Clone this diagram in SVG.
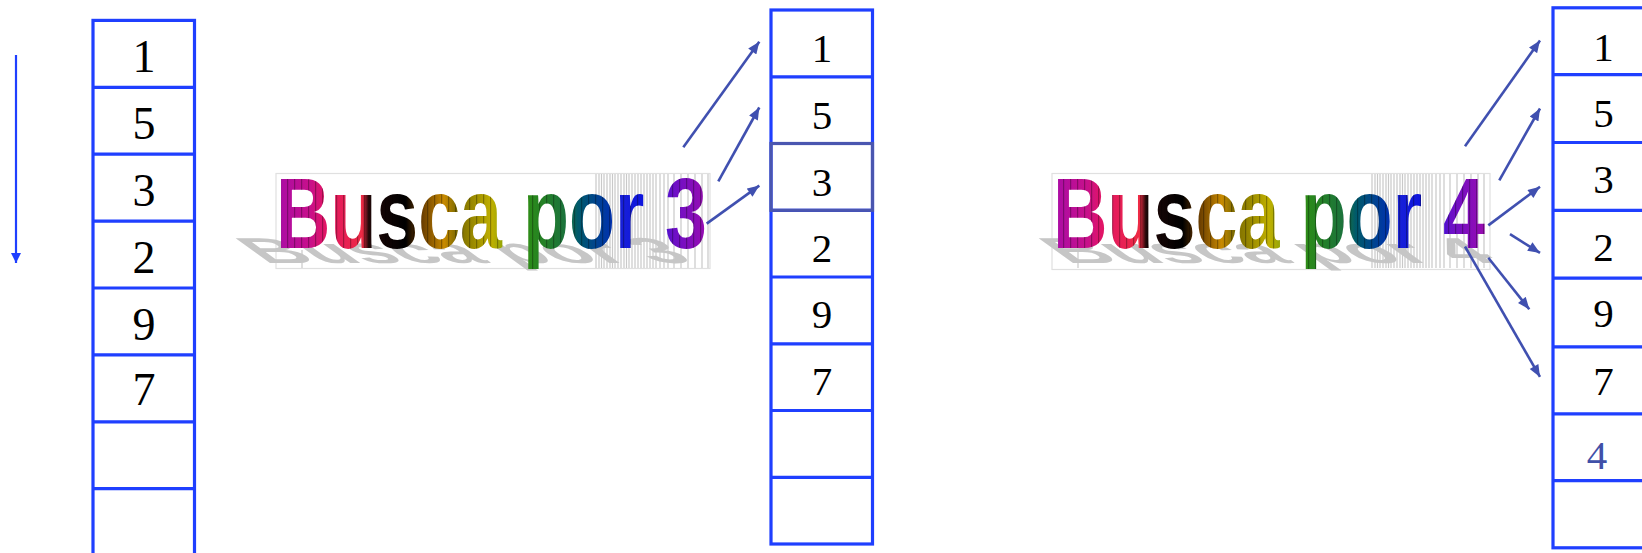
<svg xmlns="http://www.w3.org/2000/svg" width="1642" height="553" viewBox="0 0 1642 553">
<style>
.cell{fill:none;stroke:#1f3fff;stroke-width:3.2}
.hl{fill:none;stroke:#4a56b0;stroke-width:3.2}
.num{font-family:"Liberation Serif","Times New Roman",serif;text-anchor:middle;fill:#000}
.n1{font-size:46px}
.n2{font-size:41px}
.wa{font-family:"Liberation Sans",Arial,sans-serif;font-weight:bold;font-size:100px}
.frame{fill:#fff;stroke:#e0e0e0;stroke-width:1.2}
.stripe{stroke:#c9c9c9;stroke-width:1.2;fill:none}
.shadow{fill:#c6c6c6}
.conn{stroke:#4050b0;stroke-width:2.6;fill:none;marker-end:url(#ah)}
.down{stroke:#1f3fff;stroke-width:2.2;fill:none;marker-end:url(#ahb)}
</style>
<defs>
<marker id="ah" viewBox="0 0 12 10" refX="12" refY="5" markerWidth="13" markerHeight="10" markerUnits="userSpaceOnUse" orient="auto"><path d="M0,0 L12,5 L0,10 z" fill="#4050b0"/></marker>
<marker id="ahb" viewBox="0 0 10 10" refX="10" refY="5" markerWidth="10" markerHeight="10" markerUnits="userSpaceOnUse" orient="auto"><path d="M0,0 L10,5 L0,10 z" fill="#1f3fff"/></marker>
<linearGradient id="rainbow" x1="0" y1="0" x2="1" y2="0">
<stop offset="0" stop-color="#a80ca8"/>
<stop offset="0.08" stop-color="#c8108a"/>
<stop offset="0.11" stop-color="#e01468"/>
<stop offset="0.20" stop-color="#ee2a44"/>
<stop offset="0.215" stop-color="#200808"/>
<stop offset="0.30" stop-color="#000000"/>
<stop offset="0.33" stop-color="#5a3000"/>
<stop offset="0.39" stop-color="#c88a00"/>
<stop offset="0.42" stop-color="#7a6a00"/>
<stop offset="0.50" stop-color="#c0b000"/>
<stop offset="0.59" stop-color="#2a8a1a"/>
<stop offset="0.68" stop-color="#1a7040"/>
<stop offset="0.70" stop-color="#005a6a"/>
<stop offset="0.78" stop-color="#0030b0"/>
<stop offset="0.80" stop-color="#1820d8"/>
<stop offset="0.87" stop-color="#0a10e0"/>
<stop offset="0.92" stop-color="#6a10c8"/>
<stop offset="1" stop-color="#9a0cb0"/>
</linearGradient>
<pattern id="tex" width="7" height="10" patternUnits="userSpaceOnUse"><rect x="0" y="0" width="1.2" height="10" fill="#000" fill-opacity="0.3"/></pattern>
<path id="stripes" class="stripe" d="M596 174V268M599 174V268M601.5 174V268M604 174V268M607 174V268M610 174V268M612.5 174V268M615 174V268M618 174V268M621 174V268M624 174V268M626.5 174V268M629 174V268M632 174V268M635 174V268M638 174V268M641 174V268M644 174V268M647 174V268M650 174V268M653 174V268M656 174V268M660 174V268M664 174V268M668 174V268M674 174V268M681 174V268M688 174V268M695 174V268M702 174V268M708 174V268M302 250V268"/>
</defs>

<g id="col-left">
<rect class="cell" x="93" y="20.4" width="101.5" height="545"/>
<path class="cell" d="M93 87.3H194.5M93 154.2H194.5M93 221.1H194.5M93 288H194.5M93 354.9H194.5M93 421.8H194.5M93 488.7H194.5"/>
<text class="num n1" x="144" y="72">1</text>
<text class="num n1" x="144" y="139.2">5</text>
<text class="num n1" x="144" y="206">3</text>
<text class="num n1" x="144" y="273">2</text>
<text class="num n1" x="144" y="340">9</text>
<text class="num n1" x="144" y="405">7</text>
</g>

<g id="wordart-3">
<rect class="frame" x="276" y="173.5" width="434" height="95"/>
<use href="#stripes"/>
<text class="wa shadow" x="276" y="0" textLength="431" lengthAdjust="spacingAndGlyphs" transform="matrix(1,0,0.5,0.36,-11,263)">Busca por 3</text>
<text class="wa" x="276" y="248" textLength="431" lengthAdjust="spacingAndGlyphs" fill="url(#rainbow)">Busca por 3</text>
<text class="wa" x="276" y="248" textLength="431" lengthAdjust="spacingAndGlyphs" fill="url(#tex)">Busca por 3</text>
</g>

<g id="col-mid">
<rect class="cell" x="771" y="10" width="101.5" height="534"/>
<path class="cell" d="M771 76.8H872.5M771 143.5H872.5M771 210.3H872.5M771 277H872.5M771 343.8H872.5M771 410.5H872.5M771 477.3H872.5"/>
<rect class="hl" x="771" y="143.5" width="101.5" height="66.8"/>
<text class="num n2" x="822" y="61.5">1</text>
<text class="num n2" x="822" y="128.5">5</text>
<text class="num n2" x="822" y="195.5">3</text>
<text class="num n2" x="822" y="262.3">2</text>
<text class="num n2" x="822" y="328">9</text>
<text class="num n2" x="822" y="394.5">7</text>
</g>

<g id="wordart-4">
<g transform="translate(776,0)">
<rect class="frame" x="276" y="173.5" width="438" height="96"/>
<use href="#stripes"/>
<text class="wa shadow" x="276" y="0" textLength="432" lengthAdjust="spacingAndGlyphs" transform="matrix(1,0,0.5,0.36,16,263)">Busca por 4</text>
<text class="wa" x="277" y="248" textLength="432" lengthAdjust="spacingAndGlyphs" fill="url(#rainbow)">Busca por 4</text>
<text class="wa" x="277" y="248" textLength="432" lengthAdjust="spacingAndGlyphs" fill="url(#tex)">Busca por 4</text>
</g>
</g>

<g id="col-right">
<rect class="cell" x="1553" y="7.8" width="102" height="540"/>
<path class="cell" d="M1553 74.7H1655M1553 142.5H1655M1553 210.4H1655M1553 278.2H1655M1553 346.9H1655M1553 413.8H1655M1553 480.7H1655"/>
<text class="num n2" x="1603.5" y="61">1</text>
<text class="num n2" x="1603.5" y="126.7">5</text>
<text class="num n2" x="1603.5" y="192.7">3</text>
<text class="num n2" x="1603.5" y="261.4">2</text>
<text class="num n2" x="1603.5" y="327">9</text>
<text class="num n2" x="1603.5" y="394.5">7</text>
<text class="num n2" x="1597" y="469" style="fill:#4050a8">4</text>
</g>

<g id="connectors">
<path class="down" d="M16 55V263"/>
<path class="conn" d="M683.3 147.2L759.3 41.8"/>
<path class="conn" d="M718.3 181.4L759.3 107.5"/>
<path class="conn" d="M706.7 223.6L759.3 185.6"/>
<path class="conn" d="M1465 146.2L1540 40.5"/>
<path class="conn" d="M1499.3 180.3L1540 108.5"/>
<path class="conn" d="M1488.3 225.4L1540 186.7"/>
<path class="conn" d="M1510 234.2L1540 252.9"/>
<path class="conn" d="M1488.3 257.8L1529.3 309.3"/>
<path class="conn" d="M1465 246.5L1540 376.9"/>
</g>
</svg>
